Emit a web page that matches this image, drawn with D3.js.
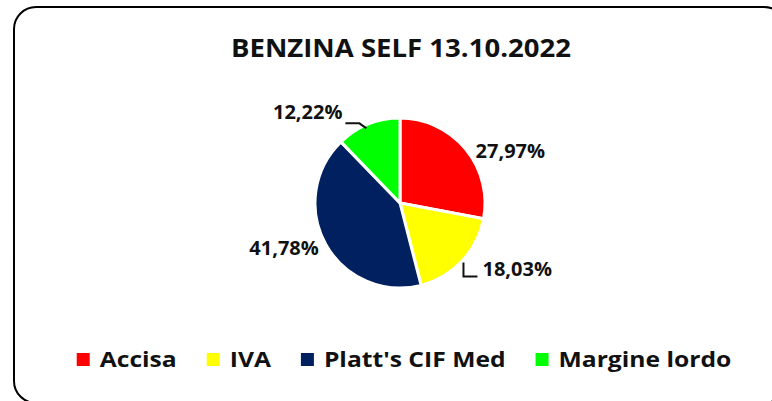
<!DOCTYPE html>
<html>
<head>
<meta charset="utf-8">
<script src="https://cdn.jsdelivr.net/npm/d3@7"></script>
<style>
  html, body { margin: 0; padding: 0; background: #fff; }
  svg { display: block; }
  text { font-family: "Open Sans", "Noto Sans", sans-serif; font-weight: 700; fill: #111; }
</style>
</head>
<body>
<div id="chart"></div>
<script>
var title = 'BENZINA SELF 13.10.2022';
var categories = ['Accisa', 'IVA', "Platt's CIF Med", 'Margine lordo'];
var values = [27.97, 18.03, 41.78, 12.22];
var valueLabels = ['27,97%', '18,03%', '41,78%', '12,22%'];
var colors = ['#ff0000', '#ffff00', '#002060', '#00ff00'];

var width = 772, height = 401;
var cx = 400, cy = 203, r = 85;

var svg = d3.select('#chart').append('svg')
  .attr('width', width)
  .attr('height', height);

// rounded frame, runs off the right and bottom edges
svg.append('rect')
  .attr('x', 14).attr('y', 7)
  .attr('width', 772).attr('height', 396)
  .attr('rx', 22).attr('ry', 22)
  .attr('fill', 'none')
  .attr('stroke', '#000')
  .attr('stroke-width', 2);

svg.append('text')
  .attr('x', 401).attr('y', 57)
  .attr('text-anchor', 'middle')
  .style('font-size', '25px')
  .attr('textLength', 340)
  .attr('lengthAdjust', 'spacingAndGlyphs')
  .text(title);

var data = categories.map(function(c, i) {
  return {name: c, value: values[i], label: valueLabels[i], color: colors[i]};
});

var pie = d3.pie().sort(null).value(function(d) { return d.value; });
var arc = d3.arc().innerRadius(0).outerRadius(r);
var arcs = pie(data);

var g = svg.append('g').attr('transform', 'translate(' + cx + ',' + cy + ')');

g.selectAll('path.slice')
  .data(arcs)
  .enter().append('path')
  .attr('class', 'slice')
  .attr('d', arc)
  .attr('fill', function(d) { return d.data.color; })
  .attr('stroke', '#fff')
  .attr('stroke-width', 3)
  .attr('stroke-linejoin', 'round');

function polar(a, rad) {
  return [Math.sin(a) * rad, -Math.cos(a) * rad];
}

// labels: 0 and 2 sit beside the slice, 1 and 3 use a leader line
arcs.forEach(function(d, i) {
  var mid = (d.startAngle + d.endAngle) / 2;
  var edge = polar(mid, r + 2);
  var t = g.append('text').style('font-size', '20px').text(d.data.label);
  if (i === 0 || i === 2) {
    var p = polar(mid, 93);
    if (i === 0) { p[0] += 4; p[1] += 7; }
    t.attr('x', p[0]).attr('y', p[1])
      .attr('dy', '0.35em')
      .attr('text-anchor', p[0] > 0 ? 'start' : 'end');
  } else if (i === 1) {
    var ly = edge[1] + 14;
    g.append('path')
      .attr('d', d3.line()([edge, [edge[0], ly], [edge[0] + 14, ly]]))
      .attr('fill', 'none').attr('stroke', '#111').attr('stroke-width', 2);
    t.attr('x', edge[0] + 19).attr('y', ly);
  } else {
    var ly2 = edge[1] + 2;
    g.append('path')
      .attr('d', d3.line()([[edge[0] - 22, ly2 - 1], [edge[0] - 8, ly2 - 1], [edge[0] - 1, ly2 + 4]]))
      .attr('fill', 'none').attr('stroke', '#111').attr('stroke-width', 2);
    t.attr('x', edge[0] - 25).attr('y', ly2 - 5)
      .attr('text-anchor', 'end');
  }
});

// legend, laid out from measured text widths (stretched a little like the original)
var legend = svg.append('g');
var lx = 0;
var sq = 13, gapText = 10, gapItem = 30, stretch = 1.12;
data.forEach(function(d, i) {
  var item = legend.append('g').attr('transform', 'translate(' + lx + ',0)');
  item.append('rect')
    .attr('x', 0).attr('y', -14)
    .attr('width', sq).attr('height', sq)
    .attr('fill', d.color);
  var t = item.append('text')
    .attr('x', sq + gapText).attr('y', 0)
    .style('font-size', '22px')
    .text(d.name);
  var w = t.node().getComputedTextLength() * stretch;
  t.attr('textLength', w).attr('lengthAdjust', 'spacingAndGlyphs');
  lx += sq + gapText + w + gapItem;
});
lx -= gapItem;
legend.attr('transform', 'translate(' + (404 - lx / 2) + ',367)');
</script>
</body>
</html>
